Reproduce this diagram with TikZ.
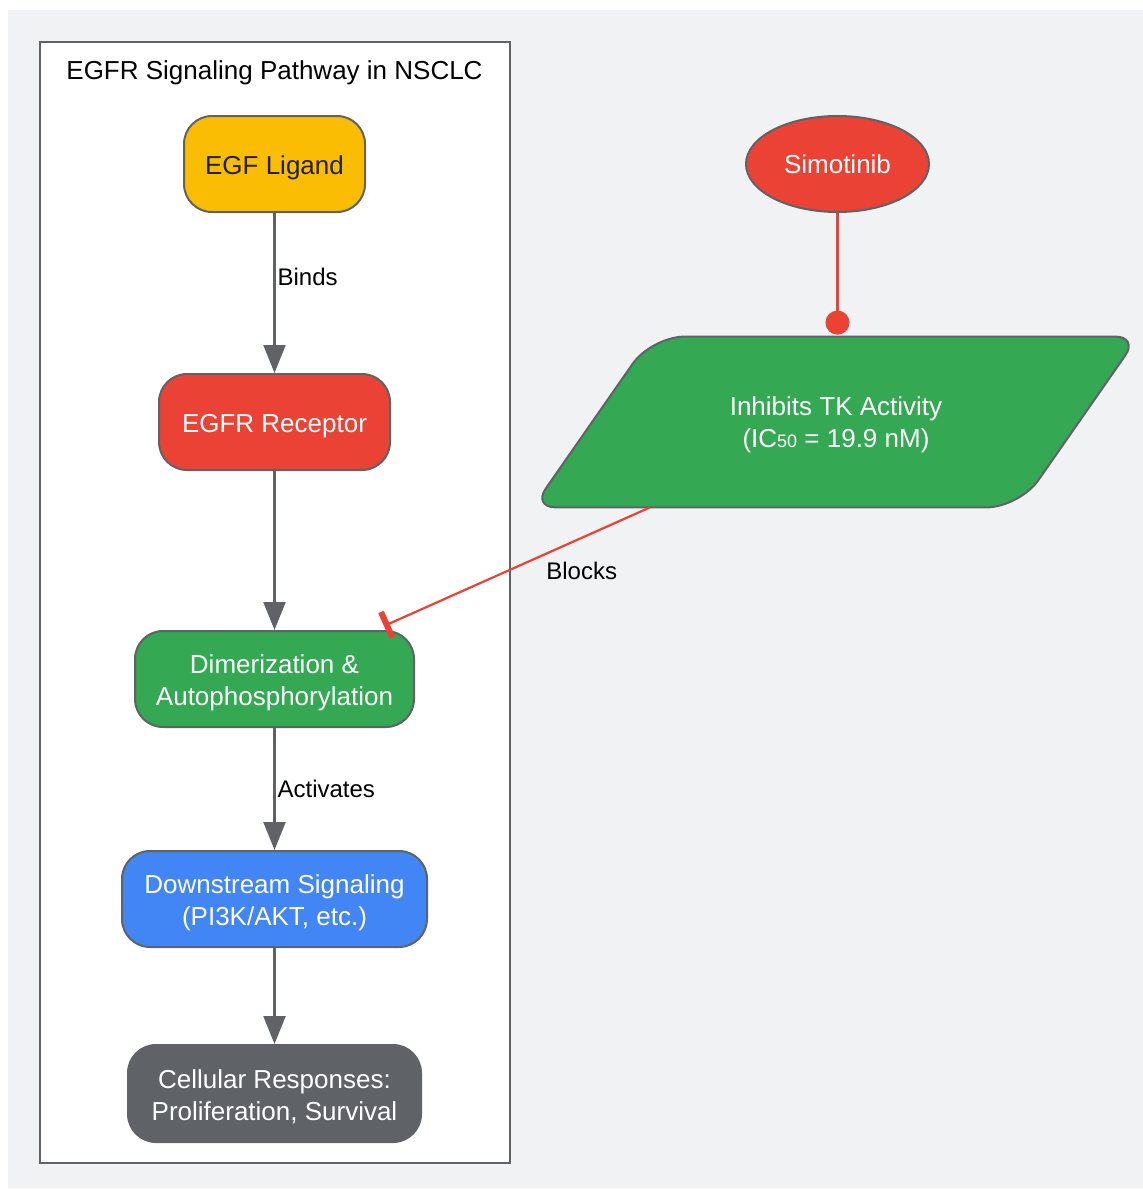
\documentclass[tikz,border=0pt]{standalone}
\usepackage{fontspec}
\setmainfont{Liberation Sans}
\usetikzlibrary{arrows.meta,shapes.geometric,backgrounds}
\definecolor{gbg}{HTML}{F1F2F4}
\definecolor{ggray}{HTML}{5F6368}
\definecolor{gyellow}{HTML}{FBBC04}
\definecolor{gred}{HTML}{EA4335}
\definecolor{ggreen}{HTML}{34A853}
\definecolor{gblue}{HTML}{4285F4}
\definecolor{gink}{HTML}{202124}
\newcommand{\toprow}[1][13pt]{\rule{0pt}{#1}}
\tikzset{
  lowtext/.style={execute at begin node={\rule{0pt}{13pt}}},
  stage/.style={draw=ggray,rounded corners=14pt,line width=1pt,align=center,text=white,minimum height=48pt,inner sep=2pt,font=\fontsize{13}{16}\selectfont},
  drug/.style={ellipse,draw=ggray,fill=gred,line width=1pt,text=white,minimum width=91.5pt,minimum height=48pt,inner sep=1pt,font=\fontsize{13}{16}\selectfont},
  para/.style={draw=ggray,fill=ggreen,line width=1pt},
  clus/.style={draw=ggray,fill=white,line width=1pt},
  ttl/.style={font=\fontsize{13}{16}\selectfont,text=black,lowtext},
  arr/.style={-{Triangle[length=14pt,width=11pt]},line width=1.1pt,draw=ggray},
  rarr/.style={line width=1.1pt,draw=gred},
  lbl/.style={font=\fontsize{12}{14}\selectfont,text=black,inner sep=1pt},
}
\begin{document}
\begin{tikzpicture}[x=0.5pt,y=-0.5pt]
  \useasboundingbox (0,0) rectangle (1143,1189);
  \begin{scope}[on background layer]
    \fill[gbg] (8,10) rectangle (1143,1188);
  \end{scope}
  \node[clus,minimum width=235pt,minimum height=560.5pt] (pathway) at (275,602.5) {};
  \node[ttl] (title) at (274.5,69) {EGFR Signaling Pathway in NSCLC};
  \node[stage,lowtext,fill=gyellow,text=gink,minimum width=90.5pt] (egf) at (274.5,164) {EGF Ligand};
  \node[stage,lowtext,fill=gred,minimum width=115.5pt] (egfr) at (274.5,422) {EGFR Receptor};
  \node[stage,fill=ggreen,minimum width=139.5pt] (dimer) at (274.5,679) {\toprow Dimerization \&\\Autophosphorylation};
  \node[stage,fill=gblue,minimum width=152.5pt] (down) at (274.5,899) {\toprow Downstream Signaling\\(PI3K/AKT, etc.)};
  \node[stage,fill=ggray,minimum width=146.5pt,minimum height=48.5pt] (cell) at (274.5,1093.5) {\toprow Cellular Responses:\\Proliferation, Survival};
  \node[drug] (simo) at (837.5,164) {Simotinib};
  \node[align=center,text=white,minimum width=243pt,minimum height=85pt,font=\fontsize{13}{16}\selectfont] (inh) at (836,422) {\toprow[12.5pt]Inhibits TK Activity\\(IC{\fontsize{9}{9}\selectfont 50} = 19.9 nM)};
  \begin{scope}[on background layer]
    \draw[para] (inh.south) [rounded corners=11.5pt] -- ([xshift=-30pt]inh.south west) [rounded corners=16.5pt] -- ([xshift=29.5pt]inh.north west) [rounded corners=11.5pt] -- ([xshift=29.5pt]inh.north east) [rounded corners=16.5pt] -- ([xshift=-30pt]inh.south east) -- cycle;
  \end{scope}
  \draw[arr] (egf) -- node[lbl,pos=0.4,anchor=west]{Binds} (egfr);
  \draw[arr] (egfr) -- (dimer);
  \draw[arr] (dimer) -- node[lbl,pos=0.5,anchor=west]{Activates} (down);
  \draw[arr] (down) -- (cell);
  \draw[rarr,-{Circle[length=12pt]}] (simo) -- ([xshift=0.75pt,yshift=1pt]inh.north);
  \draw[rarr,-{Bar[width=14pt,line width=3pt]}] ([xshift=-93pt]inh.south) -- node[lbl,pos=0.39,anchor=north west,xshift=-1.5pt,yshift=-2.5pt]{Blocks} ([xshift=-15.5pt,yshift=2pt]dimer.north east);
\end{tikzpicture}
\end{document}
